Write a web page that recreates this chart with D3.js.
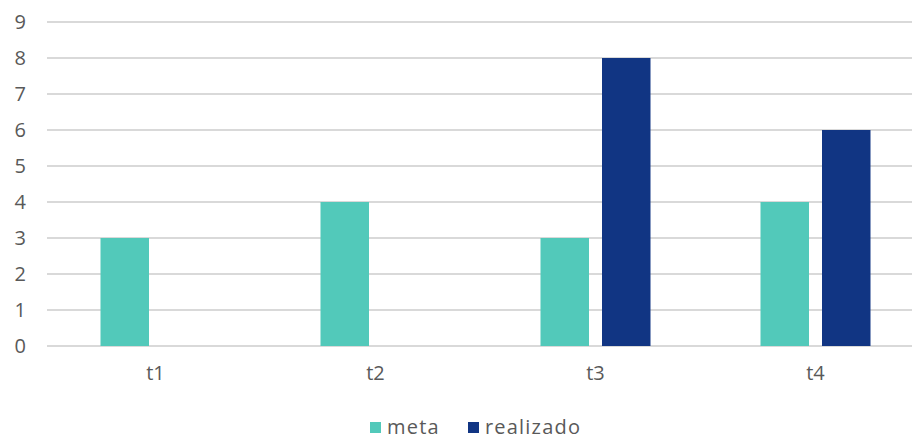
<!DOCTYPE html>
<html><head><meta charset="utf-8">
<script src="https://cdn.jsdelivr.net/npm/d3@7"></script>
<style>body{margin:0;background:#fff}svg{display:block}</style>
</head><body>
<script>
const categories = ["t1","t2","t3","t4"];
const seriesNames = ["meta","realizado"];
const meta = [3,4,3,4];
const realizado = [0,0,8,6];
const yTicks = [0,1,2,3,4,5,6,7,8,9];
const colors = ["#52C9BA","#113583"];

const W=912,H=440;
const svg=d3.select("body").append("svg").attr("width",W).attr("height",H);
const font="'Open Sans', Lato, sans-serif";
const x=d3.scaleBand().domain(categories).range([45.5,925.5]);
const y=d3.scaleLinear().domain([0,9]).range([346,22]);
const inner=d3.scaleBand().domain(seriesNames).range([0,110]).paddingInner(13/61.5);

const g=svg.append("g");
g.selectAll("line.grid").data(yTicks).join("line")
 .attr("x1",47).attr("x2",W).attr("y1",d=>y(d)).attr("y2",d=>y(d))
 .attr("stroke","#d9d9d9").attr("stroke-width",2);

const yAxis=d3.axisLeft(y).tickValues(yTicks).tickSize(0).tickPadding(0);
svg.append("g").attr("transform","translate(26,0)").call(yAxis)
 .call(a=>a.select(".domain").remove())
 .call(a=>a.selectAll("text").attr("font-family",font).attr("font-size",20).attr("fill","#595959"));

const data=categories.map((c,i)=>({c,vals:[meta[i],realizado[i]]}));
const grp=svg.append("g").selectAll("g").data(data).join("g")
 .attr("transform",d=>`translate(${x(d.c)+(x.bandwidth()-110)/2},0)`);
grp.selectAll("rect").data(d=>d.vals.map((v,j)=>({v,s:seriesNames[j],j}))).join("rect")
 .attr("x",d=>inner(d.s)).attr("width",inner.bandwidth())
 .attr("y",d=>y(d.v)).attr("height",d=>y(0)-y(d.v))
 .attr("fill",d=>colors[d.j]);

const xAxis=d3.axisBottom(x).tickSize(0).tickPadding(0);
svg.append("g").attr("transform","translate(0,366)").call(xAxis)
 .call(a=>a.select(".domain").remove())
 .call(a=>a.selectAll("text").attr("font-family",font).attr("font-size",20).attr("fill","#595959"));

const leg=svg.append("g");
const legX=[370,468];
seriesNames.forEach((s,i)=>{
  leg.append("rect").attr("x",legX[i]).attr("y",422).attr("width",11).attr("height",11).attr("fill",colors[i]);
  leg.append("text").attr("x",legX[i]+17).attr("y",434).text(s)
   .attr("font-family",font).attr("font-size",20).attr("letter-spacing",1.2).attr("fill","#595959");
});
</script>
</body></html>
